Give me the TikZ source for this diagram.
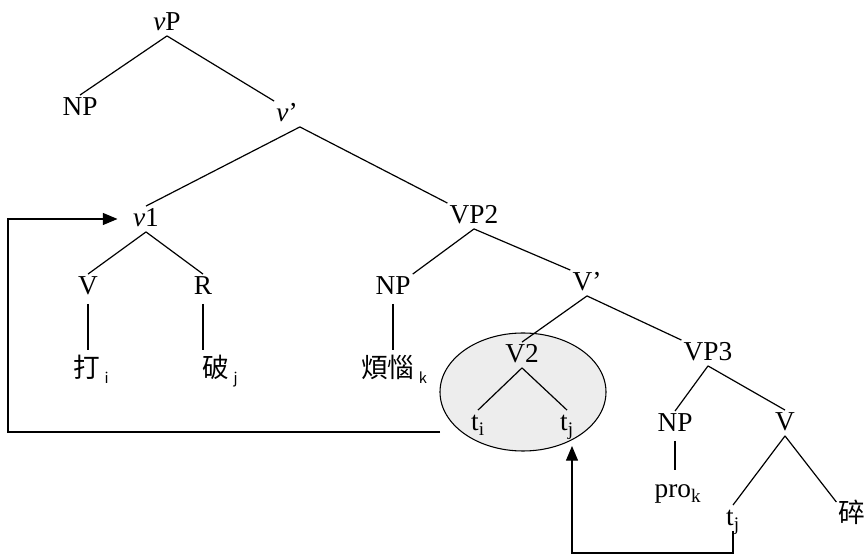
\documentclass[tikz,border=0pt]{standalone}
\usepackage{fontspec}
\setmainfont{Liberation Serif}
\newfontfamily\cjk{Noto Sans CJK TC}
\usetikzlibrary{arrows.meta,shapes.geometric}

% index letter set low and small after a word
\newcommand{\lowidx}[1]{\raisebox{-0.35ex}{\fontsize{11}{12}\selectfont #1}}

\begin{document}
\begin{tikzpicture}[x=0.75pt,y=-0.75pt,
  lab/.style={font=\fontsize{20.5}{22}\selectfont, inner sep=1.5pt,
    text height=14pt, text depth=2pt},
  leaf/.style={lab, font=\fontsize{20}{22}\selectfont\cjk},
  branch/.style={line width=0.9pt},
  stem/.style={branch, shorten <=3pt, shorten >=5pt},
  move/.style={line width=0.9pt, -{Triangle[length=11pt,width=9pt]}}]
  \useasboundingbox (0,0) rectangle (868,555);

  % Circled V2 part
  \node[ellipse, draw, line width=0.8pt, fill=gray!14,
    minimum width=124.5pt, minimum height=88.5pt] (ell) at (523,392) {};

  % Top of the tree
  \node[lab] (vP) at (167,23) {\textit{v}P};
  \node[lab] (NPa) at (80,108) {NP};
  \node[lab] (vbar) at (287,114) {\textit{v}’};
  \node[lab] (v1) at (146,219) {\textit{v}1};
  \node[lab] (VP2) at (474,216) {VP2};

  % Under v1
  \node[lab] (V) at (88,287) {V};
  \node[lab] (R) at (203,287) {R};
  \node[leaf] (da) at (91,370) {打\,\lowidx{i}};
  \node[leaf] (po) at (220,370) {破\,\lowidx{j}};

  % Under VP2
  \node[lab] (NPb) at (393,287) {NP};
  \node[lab] (Vbar) at (587,283) {V’};
  \node[leaf] (fan) at (394,370) {煩惱\,\lowidx{k}};

  % Under V'
  \node[lab] (V2) at (522,355) {V2};
  \node[lab] (ti) at (478,423) {t\textsubscript{i}};
  \node[lab] (tj) at (567,423) {t\textsubscript{j}};
  \node[lab] (VP3) at (708,353) {VP3};

  % Under VP3
  \node[lab] (NPc) at (675,424) {NP};
  \node[lab] (pro) at (678,490) {pro\textsubscript{k}};
  \node[lab] (Vc) at (785,423) {V};
  \node[lab] (tjb) at (733,518) {t\textsubscript{j}};
  \node[leaf] (sui) at (852,515) {碎};

  % Branches
  \draw[branch] (vP.south) -- (NPa.north);
  \draw[branch] (vP.south) -- (vbar.north west);
  \draw[branch] (vbar.south east) -- (v1.north);
  \draw[branch] (vbar.south east) -- (VP2.north west);
  \draw[branch] (v1.south) -- (V.north);
  \draw[branch] (v1.south) -- (R.north);
  \draw[stem] (V.south) -- (V.south |- da.north);
  \draw[stem] (R.south) -- (R.south |- po.north);
  \draw[branch] (VP2.south) -- (NPb.north east);
  \draw[branch] (VP2.south) -- (Vbar.north west);
  \draw[stem] (NPb.south) -- (NPb.south |- fan.north);
  \draw[branch] (Vbar.south) -- (V2.north);
  \draw[branch] (Vbar.south) -- (VP3.north west);
  \draw[branch] (V2.south) -- (ti.north);
  \draw[branch] (V2.south) -- (tj.north);
  \draw[branch] (VP3.south) -- (NPc.north);
  \draw[branch] (VP3.south) -- (Vc.north);
  \draw[stem] (NPc.south) -- (NPc.south |- pro.north);
  \draw[branch] (Vc.south) -- (tjb.north);
  \draw[branch] (Vc.south) -- (sui.north west);

  % Movement arrows
  \coordinate (tailA) at (440,432);
  \coordinate (cornerA) at (8,432);
  \draw[move] (tailA) -- (cornerA) |- ([xshift=-10pt]v1.west);
  \coordinate (cornerB) at (572,553);
  \coordinate (tipB) at (572,446);
  \draw[move] (tjb.south) |- (cornerB) -- (tipB);
\end{tikzpicture}
\end{document}
